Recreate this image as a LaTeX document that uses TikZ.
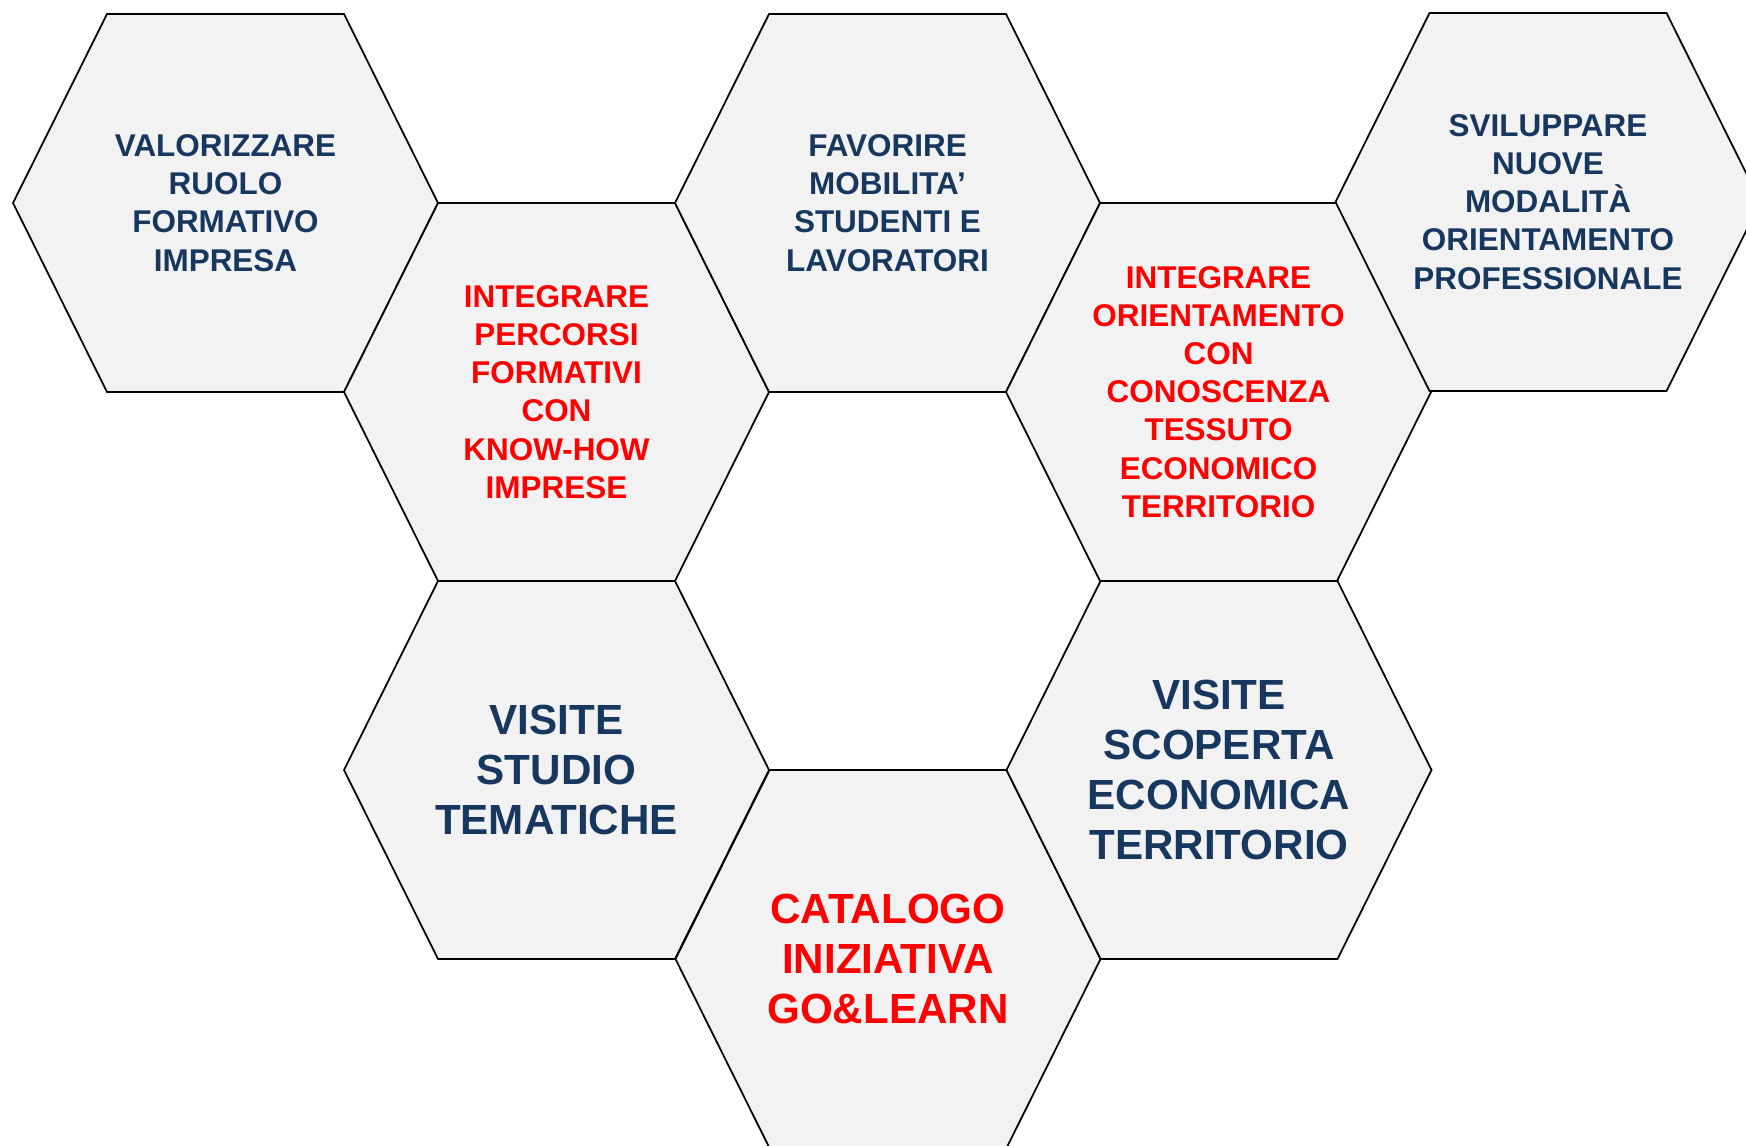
\documentclass[tikz,border=0pt]{standalone}
\usepackage{fontspec}
\setmainfont{Liberation Sans}
\usepackage{xcolor}
\definecolor{cellgray}{HTML}{F2F2F2}
\definecolor{navytxt}{HTML}{17375E}
\definecolor{redtxt}{HTML}{FF0000}

\begin{document}
\begin{tikzpicture}[x=0.02cm,y=-0.02cm,
    hexcell/.style={draw=black, line width=1pt, fill=cellgray},
    smalltxt/.style={align=center, font=\bfseries\fontsize{17.9}{21.7}\selectfont},
    bigtxt/.style={align=center, font=\bfseries\fontsize{24}{28.4}\selectfont},
    navysmall/.style={smalltxt, text=navytxt},
    redsmall/.style={smalltxt, text=redtxt},
    navybig/.style={bigtxt, text=navytxt},
    redbig/.style={bigtxt, text=redtxt}]
\useasboundingbox (0,0) rectangle (1746,1145);
\clip (0,0) rectangle (1746,1145);
% half width, half height, half top edge
\def\ha{212.5}
\def\hb{189}
\def\hc{118.5}
\foreach \cx/\cy/\nm/\sty/\txt in {
    225.5/203/valorizzare/navysmall/{VALORIZZARE\\RUOLO\\FORMATIVO\\IMPRESA},
    556.5/392/percorsi/redsmall/{INTEGRARE\\PERCORSI\\FORMATIVI\\CON\\KNOW-HOW\\IMPRESE},
    887.5/203/mobilita/navysmall/{FAVORIRE\\MOBILITA’\\STUDENTI E\\LAVORATORI},
    1218.5/392/orientamento/redsmall/{INTEGRARE\\ORIENTAMENTO\\CON\\CONOSCENZA\\TESSUTO\\ECONOMICO\\TERRITORIO},
    1548/202/sviluppare/navysmall/{SVILUPPARE\\NUOVE\\MODALITÀ\\ORIENTAMENTO\\PROFESSIONALE},
    556.5/770/studio/navybig/{VISITE\\STUDIO\\TEMATICHE},
    888/959/catalogo/redbig/{CATALOGO\\INIZIATIVA\\GO\&LEARN},
    1219/770/scoperta/navybig/{VISITE\\SCOPERTA\\ECONOMICA\\TERRITORIO}} {
    \draw[hexcell] (\cx-\ha,\cy) -- (\cx-\hc,\cy-\hb) -- (\cx+\hc,\cy-\hb)
        -- (\cx+\ha,\cy) -- (\cx+\hc,\cy+\hb) -- (\cx-\hc,\cy+\hb) -- cycle;
    \node[\sty] (\nm) at (\cx,\cy) {\txt};
}
\end{tikzpicture}
\end{document}
